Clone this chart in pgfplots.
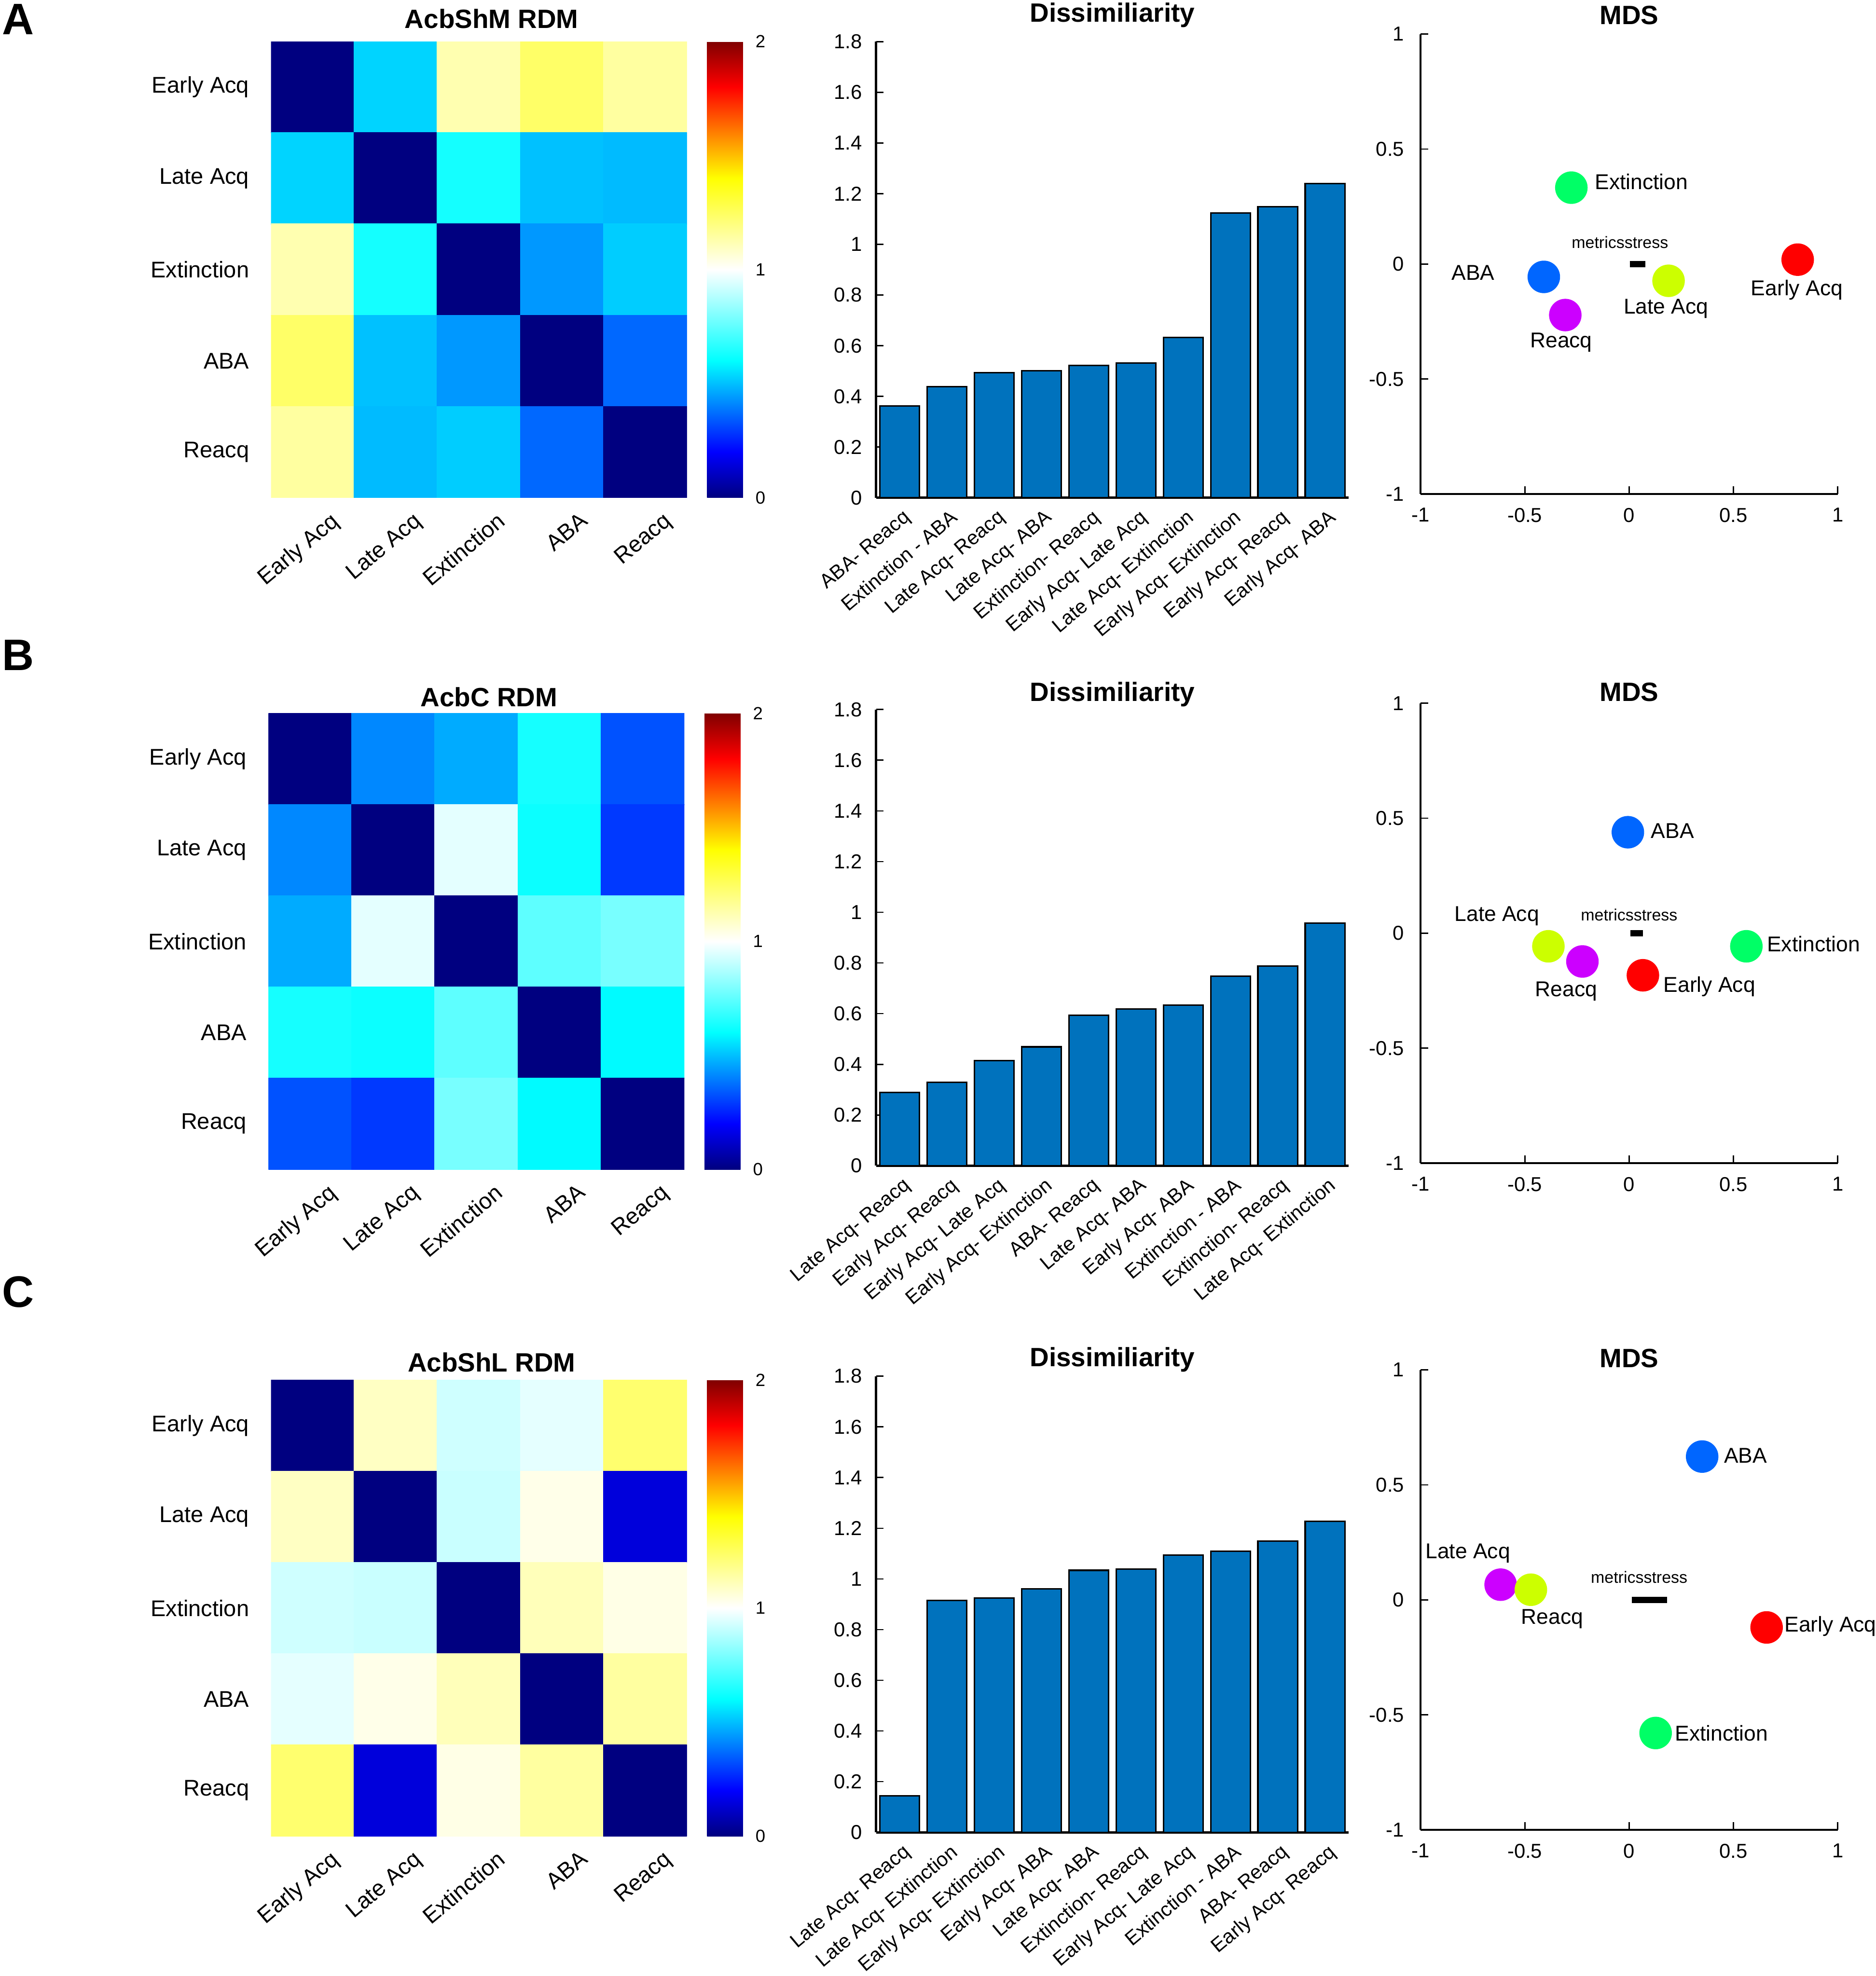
\documentclass[border=0pt]{standalone}
\usepackage{fontspec}
\setmainfont{Liberation Sans}
\usepackage{pgfplots}
\pgfplotsset{compat=1.18}

\definecolor{barblue}{rgb}{0,0.447,0.741}
\definecolor{cEarly}{rgb}{1,0,0}
\definecolor{cLate}{rgb}{0.8,1,0}
\definecolor{cExt}{rgb}{0,1,0.4}
\definecolor{cABA}{rgb}{0,0.4,1}
\definecolor{cReacq}{rgb}{0.8,0,1}

\newcommand\fsz[1]{\fontsize{#1}{#1}\selectfont}

\tikzset{
  lab/.style={font=\fsz{8.5}, inner sep=0pt},
  stress/.style={font=\fsz{6.5}, inner sep=0pt},
}

\pgfplotsset{
  /pgf/number format/assume math mode=true,
  colormap={rdm}{rgb(0pt)=(0,0,0.5); rgb(2pt)=(0,0,1); rgb(6pt)=(0,1,1);
    rgb(10pt)=(1,1,1); rgb(14pt)=(1,1,0); rgb(18pt)=(1,0,0); rgb(20pt)=(0.5,0,0)},
  heat/.style={
    scale only axis, width=165pt, height=181pt, anchor=north west,
    xmin=0.5, xmax=5.5, ymin=0.5, ymax=5.5, y dir=reverse,
    axis line style={draw=none}, major tick length=0pt,
    xtick={1,...,5}, ytick={1,...,5},
    xticklabels={Early Acq,Late Acq,Extinction,ABA,Reacq},
    yticklabels={Early Acq,Late Acq,Extinction,ABA,Reacq},
    ticklabel style={font=\fsz{9}},
    xticklabel style={inner sep=0pt, xshift=6.7pt, yshift=-5pt, rotate=40, anchor=north east},
    yticklabel style={inner sep=0pt, xshift=-8.5pt, anchor=east},
    colormap name=rdm, point meta min=0, point meta max=2,
    colorbar,
    colorbar shift/.style={xshift=8pt},
    colorbar style={at={(parent axis.north east)}, anchor=north west,
      width=17pt, ytick={0,1,2}, axis line style={draw=none}, major tick length=0pt,
      yticklabel style={font=\fsz{7}, inner sep=0pt, xshift=2pt, anchor=west}},
    title style={font=\bfseries\fsz{10.5}, at={(0.5,1)}, anchor=center, xshift=5pt},
  },
  barst/.style={
    scale only axis, width=187.5pt, height=181pt, anchor=north west,
    xmin=0.5, xmax=10.5, ymin=0, ymax=1.8,
    axis x line*=bottom, axis y line*=left, axis line style={-, line width=0.9pt},
    tick align=inside, major tick length=3pt, tick style={black, line width=0.5pt},
    xtick={1,...,10}, ytick={0,0.2,0.4,0.6,0.8,1,1.2,1.4,1.6,1.8},
    yticklabel style={font=\fsz{8}, xshift=-2pt},
    xticklabel style={font=\fsz{7.9}, inner sep=0pt, xshift=1pt, yshift=-4pt, rotate=40, anchor=north east},
    title style={font=\bfseries\fsz{10.5}, at={(0.5,1)}, anchor=center},
    title=Dissimiliarity,
  },
  mds/.style={
    scale only axis, width=165.5pt, height=182.5pt, anchor=north west,
    xmin=-1, xmax=1, ymin=-1, ymax=1, clip=false,
    axis x line*=bottom, axis y line*=left, axis line style={-, line width=0.9pt},
    tick align=inside, major tick length=3pt, tick style={black, line width=0.5pt},
    xtick={-1,-0.5,0,0.5,1}, ytick={-1,-0.5,0,0.5,1},
    ticklabel style={font=\fsz{8}},
    xticklabel style={yshift=-2pt}, yticklabel style={xshift=-3pt},
    title style={font=\bfseries\fsz{10.5}, at={(0.5,1)}, anchor=center},
    title=MDS,
  },
  pt/.style={only marks, mark=*, mark size=6.25pt, color=#1},
}

\begin{document}
\begin{tikzpicture}
\path[use as bounding box] (0,0) rectangle (744pt,-784pt);

\node[font=\bfseries\fsz{17.5}] at (7.25pt,-7.75pt) {A};
\node[font=\bfseries\fsz{17.5}] at (7.25pt,-260pt) {B};
\node[font=\bfseries\fsz{17.5}] at (7.25pt,-512.5pt) {C};

% ---------- row A ----------
\begin{axis}[heat, at={(107.5pt,-16.5pt)}, title=AcbShM RDM, title style={yshift=3pt}]
\addplot[matrix plot*, mesh/cols=5, point meta=explicit] coordinates {
(1,1)[0] (2,1)[0.532] (3,1)[1.124] (4,1)[1.239] (5,1)[1.149]
(1,2)[0.532] (2,2)[0] (3,2)[0.632] (4,2)[0.502] (5,2)[0.493]
(1,3)[1.124] (2,3)[0.632] (3,3)[0] (4,3)[0.438] (5,3)[0.522]
(1,4)[1.239] (2,4)[0.502] (3,4)[0.438] (4,4)[0] (5,4)[0.363]
(1,5)[1.149] (2,5)[0.493] (3,5)[0.522] (4,5)[0.363] (5,5)[0]
};
\end{axis}

\begin{axis}[barst, at={(347.5pt,-16.5pt)}, title style={yshift=4.5pt},
  xticklabels={ABA- Reacq, Extinction - ABA, Late Acq- Reacq, Late Acq- ABA,
    Extinction- Reacq, Early Acq- Late Acq, Late Acq- Extinction,
    Early Acq- Extinction, Early Acq- Reacq, Early Acq- ABA}]
\addplot[ybar, bar width=0.84, fill=barblue, draw=black, line width=0.6pt] coordinates {
(1,0.363) (2,0.438) (3,0.493) (4,0.502) (5,0.522)
(6,0.532) (7,0.632) (8,1.124) (9,1.149) (10,1.239)};
\end{axis}

\begin{axis}[mds, at={(563.5pt,-13.5pt)}, title style={yshift=1.5pt}]
\addplot[black, line width=2.4pt] coordinates {(0.003,0) (0.077,0)};
\addplot[pt=cEarly] coordinates {(0.808,0.019)};
\addplot[pt=cLate] coordinates {(0.189,-0.073)};
\addplot[pt=cExt] coordinates {(-0.277,0.332)};
\addplot[pt=cABA] coordinates {(-0.409,-0.056)};
\addplot[pt=cReacq] coordinates {(-0.306,-0.222)};
\node[lab, anchor=west] at (axis cs:-0.166,0.358) {Extinction};
\node[lab] at (axis cs:-0.748,-0.037) {ABA};
\node[lab] at (axis cs:-0.326,-0.341) {Reacq};
\node[lab] at (axis cs:0.177,-0.194) {Late Acq};
\node[lab] at (axis cs:0.804,-0.113) {Early Acq};
\node[stress] at (axis cs:-0.044,0.095) {metricsstress};
\end{axis}

% ---------- row B ----------
\begin{axis}[heat, at={(106.5pt,-283pt)}, title=AcbC RDM, title style={yshift=0.5pt}]
\addplot[matrix plot*, mesh/cols=5, point meta=explicit] coordinates {
(1,1)[0] (2,1)[0.414] (3,1)[0.469] (4,1)[0.633] (5,1)[0.329]
(1,2)[0.414] (2,2)[0] (3,2)[0.957] (4,2)[0.618] (5,2)[0.289]
(1,3)[0.469] (2,3)[0.957] (3,3)[0] (4,3)[0.748] (5,3)[0.788]
(1,4)[0.633] (2,4)[0.618] (3,4)[0.748] (4,4)[0] (5,4)[0.593]
(1,5)[0.329] (2,5)[0.289] (3,5)[0.788] (4,5)[0.593] (5,5)[0]
};
\end{axis}

\begin{axis}[barst, at={(347.5pt,-281.5pt)}, title style={yshift=0pt},
  xticklabels={Late Acq- Reacq, Early Acq- Reacq, Early Acq- Late Acq,
    Early Acq- Extinction, ABA- Reacq, Late Acq- ABA, Early Acq- ABA,
    Extinction - ABA, Extinction- Reacq, Late Acq- Extinction}]
\addplot[ybar, bar width=0.84, fill=barblue, draw=black, line width=0.6pt] coordinates {
(1,0.289) (2,0.329) (3,0.414) (4,0.469) (5,0.593)
(6,0.618) (7,0.633) (8,0.748) (9,0.788) (10,0.957)};
\end{axis}

\begin{axis}[mds, at={(563.5pt,-279pt)}, title style={yshift=-1.5pt}]
\addplot[black, line width=2.4pt] coordinates {(0.006,0) (0.066,0)};
\addplot[pt=cABA] coordinates {(-0.006,0.439)};
\addplot[pt=cLate] coordinates {(-0.387,-0.057)};
\addplot[pt=cReacq] coordinates {(-0.224,-0.123)};
\addplot[pt=cEarly] coordinates {(0.066,-0.183)};
\addplot[pt=cExt] coordinates {(0.562,-0.057)};
\node[lab, anchor=west] at (axis cs:0.103,0.444) {ABA};
\node[lab] at (axis cs:-0.634,0.074) {Late Acq};
\node[lab] at (axis cs:-0.302,-0.253) {Reacq};
\node[lab, anchor=west] at (axis cs:0.163,-0.232) {Early Acq};
\node[lab, anchor=west] at (axis cs:0.659,-0.046) {Extinction};
\node[stress] at (axis cs:0.0,0.079) {metricsstress};
\end{axis}

% ---------- row C ----------
\begin{axis}[heat, at={(107.5pt,-547.5pt)}, title=AcbShL RDM, title style={yshift=1pt}]
\addplot[matrix plot*, mesh/cols=5, point meta=explicit] coordinates {
(1,1)[0] (2,1)[1.094] (3,1)[0.925] (4,1)[0.960] (5,1)[1.228]
(1,2)[1.094] (2,2)[0] (3,2)[0.915] (4,2)[1.034] (5,2)[0.144]
(1,3)[0.925] (2,3)[0.915] (3,3)[0] (4,3)[1.109] (5,3)[1.039]
(1,4)[0.960] (2,4)[1.034] (3,4)[1.109] (4,4)[0] (5,4)[1.149]
(1,5)[1.228] (2,5)[0.144] (3,5)[1.039] (4,5)[1.149] (5,5)[0]
};
\end{axis}

\begin{axis}[barst, at={(347.5pt,-546pt)}, title style={yshift=0.5pt},
  xticklabels={Late Acq- Reacq, Late Acq- Extinction, Early Acq- Extinction,
    Early Acq- ABA, Late Acq- ABA, Extinction- Reacq, Early Acq- Late Acq,
    Extinction - ABA, ABA- Reacq, Early Acq- Reacq}]
\addplot[ybar, bar width=0.84, fill=barblue, draw=black, line width=0.6pt] coordinates {
(1,0.144) (2,0.915) (3,0.925) (4,0.960) (5,1.034)
(6,1.039) (7,1.094) (8,1.109) (9,1.149) (10,1.228)};
\end{axis}

\begin{axis}[mds, at={(563.5pt,-543.5pt)}, title style={yshift=-1.5pt}]
\addplot[black, line width=2.4pt] coordinates {(0.012,0) (0.181,0)};
\addplot[pt=cABA] coordinates {(0.350,0.623)};
\addplot[pt=cReacq] coordinates {(-0.616,0.066)};
\addplot[pt=cLate] coordinates {(-0.471,0.044)};
\addplot[pt=cEarly] coordinates {(0.659,-0.120)};
\addplot[pt=cExt] coordinates {(0.127,-0.579)};
\node[lab, anchor=west] at (axis cs:0.453,0.628) {ABA};
\node[lab] at (axis cs:-0.773,0.202) {Late Acq};
\node[lab] at (axis cs:-0.369,-0.082) {Reacq};
\node[lab, anchor=west] at (axis cs:0.743,-0.115) {Early Acq};
\node[lab, anchor=west] at (axis cs:0.218,-0.579) {Extinction};
\node[stress] at (axis cs:0.048,0.098) {metricsstress};
\end{axis}
\end{tikzpicture}
\end{document}
